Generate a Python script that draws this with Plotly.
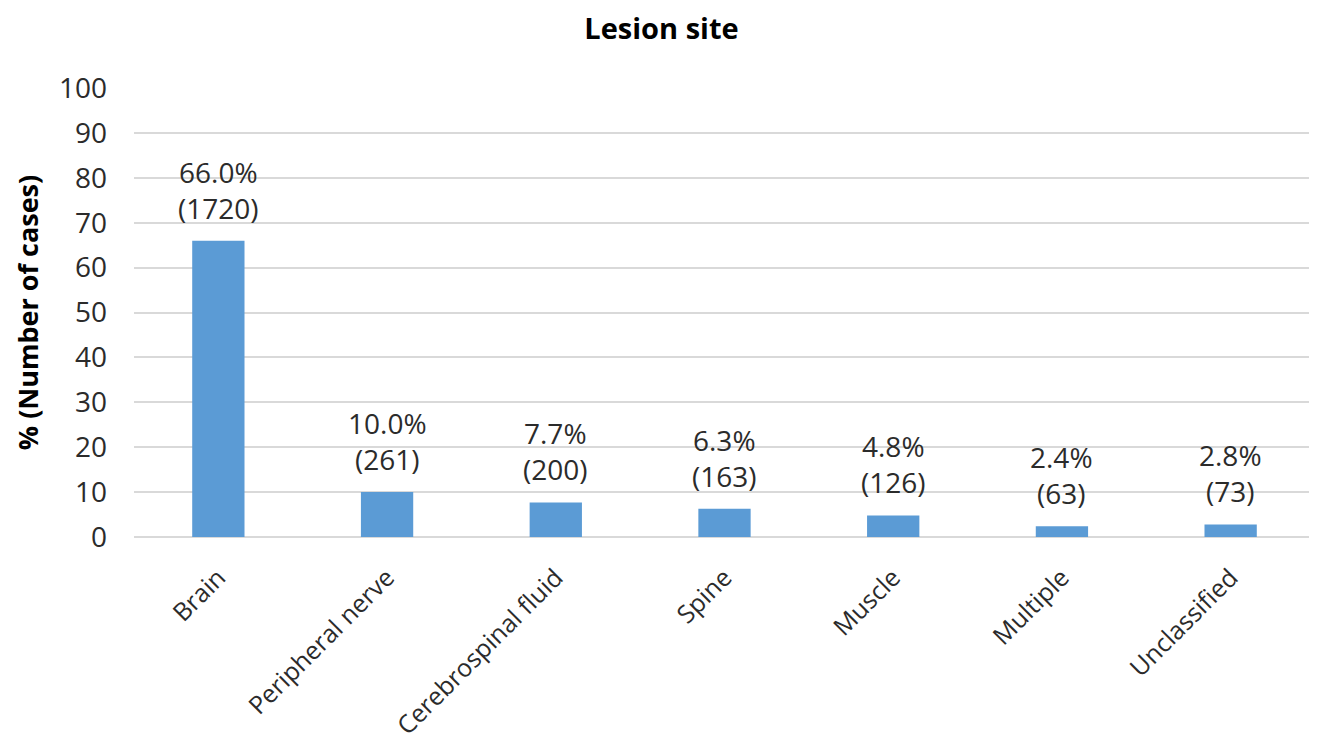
import plotly.graph_objects as go

categories = ["Brain", "Peripheral nerve", "Cerebrospinal fluid", "Spine", "Muscle", "Multiple", "Unclassified"]
percent = [66.0, 10.0, 7.7, 6.3, 4.8, 2.4, 2.8]
counts = [1720, 261, 200, 163, 126, 63, 73]
y_ticks = [0, 10, 20, 30, 40, 50, 60, 70, 80, 90, 100]

FONT = "Open Sans"
TXT = "#2b2b2b"
FS = 28

fig = go.Figure(go.Bar(
    x=categories, y=percent, width=0.31,
    marker=dict(color="#5B9BD5", line=dict(width=0)),
    hoverinfo="skip",
))

for c, p, n in zip(categories, percent, counts):
    fig.add_annotation(x=c, y=p, text=f"{p:.1f}%<br>({n})", showarrow=False,
                       yanchor="bottom", yshift=12,
                       font=dict(family=FONT, size=FS, color=TXT))

fig.update_layout(
    width=1307, height=739,
    paper_bgcolor="white", plot_bgcolor="white",
    margin=dict(l=126, r=0, t=80, b=210),
    title=dict(text="<b>Lesion site</b>", x=0.5, xanchor="center", y=1 - 21 / 739, yanchor="middle",
               font=dict(family=FONT, size=29, color="black")),
    showlegend=False,
)
fig.update_xaxes(tickangle=-45, tickfont=dict(family=FONT, size=25, color=TXT),
                 showgrid=False, showline=False, ticks="", ticklabelstandoff=20, automargin=False)
fig.update_yaxes(range=[0, 100], tickvals=y_ticks, tickfont=dict(family=FONT, size=FS, color=TXT),
                 showgrid=True, gridcolor="#D9D9D9", gridwidth=2, zeroline=True,
                 zerolinecolor="#D9D9D9", zerolinewidth=2, ticks="", ticklen=0,
                 ticklabelstandoff=26, automargin=False,
                 title=dict(text="<b>% (Number of cases)</b>", font=dict(family=FONT, size=27, color="black"),
                            standoff=12))

fig.write_html("out.html")
